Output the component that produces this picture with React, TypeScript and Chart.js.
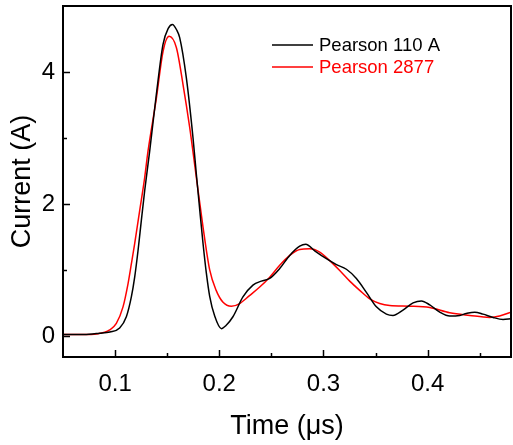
import React, { useEffect, useRef } from "react";
import { Chart, registerables } from "chart.js";

Chart.register(...registerables);

const blackTimes = [0.05, 0.07, 0.0852, 0.095, 0.1044, 0.1108, 0.1156, 0.1188, 0.122, 0.1252, 0.1284, 0.1332, 0.1396, 0.146, 0.151, 0.155, 0.159, 0.162, 0.1684, 0.1748, 0.178, 0.181, 0.1844, 0.1876, 0.1908, 0.1956, 0.202, 0.206, 0.2131, 0.2227, 0.2323, 0.2404, 0.2484, 0.258, 0.2676, 0.2772, 0.283, 0.2916, 0.3028, 0.3124, 0.322, 0.3316, 0.3412, 0.3508, 0.3604, 0.3667, 0.3763, 0.386, 0.394, 0.402, 0.4116, 0.4212, 0.4308, 0.4372, 0.4452, 0.4532, 0.4628, 0.4724, 0.48];
const blackValues = [0.02, 0.02, 0.04, 0.06, 0.12, 0.29, 0.59, 0.89, 1.29, 1.75, 2.2, 2.8, 3.66, 4.42, 4.66, 4.72, 4.64, 4.52, 3.91, 3.0, 2.45, 1.95, 1.4, 0.95, 0.6, 0.3, 0.11, 0.15, 0.29, 0.59, 0.77, 0.83, 0.87, 1.02, 1.22, 1.36, 1.39, 1.29, 1.17, 1.08, 1.01, 0.87, 0.66, 0.44, 0.33, 0.31, 0.39, 0.5, 0.53, 0.47, 0.36, 0.3, 0.31, 0.34, 0.36, 0.33, 0.28, 0.25, 0.26];

const redTimes = [0.05, 0.07, 0.082, 0.0948, 0.1012, 0.1076, 0.1124, 0.1156, 0.1188, 0.1236, 0.1284, 0.1316, 0.1396, 0.146, 0.1518, 0.1588, 0.1652, 0.1716, 0.178, 0.1844, 0.1908, 0.197, 0.2036, 0.2116, 0.2196, 0.229, 0.2388, 0.2484, 0.258, 0.2676, 0.2772, 0.2868, 0.2964, 0.306, 0.3156, 0.3252, 0.3348, 0.3444, 0.354, 0.3636, 0.3828, 0.402, 0.4212, 0.4404, 0.4596, 0.469, 0.48];
const redValues = [0.02, 0.02, 0.03, 0.09, 0.19, 0.44, 0.79, 1.09, 1.4, 1.9, 2.4, 2.8, 3.6, 4.31, 4.54, 4.37, 3.81, 3.16, 2.4, 1.65, 1.0, 0.69, 0.51, 0.45, 0.49, 0.61, 0.74, 0.89, 1.07, 1.22, 1.31, 1.32, 1.27, 1.14, 0.99, 0.83, 0.69, 0.56, 0.49, 0.46, 0.45, 0.43, 0.35, 0.31, 0.28, 0.3, 0.36];

const seriesNames = ["Pearson 110 A", "Pearson 2877"];
const seriesColors = ["#000000", "#ff0000"];

const xMajorTicks = [0.1, 0.2, 0.3, 0.4];
const xMinorTicks = [0.15, 0.25, 0.35, 0.45];
const yMajorTicks = [0, 2, 4];
const yMinorTicks = [1, 3];

const FONT = "'Liberation Sans', Arial, sans-serif";

const framePlugin = {
  id: "frameAndTicks",
  afterDatasetsDraw(chart: any) {
    const { ctx, chartArea, scales } = chart;
    const { left, right, top, bottom } = chartArea;
    ctx.save();
    ctx.strokeStyle = "#000";
    ctx.lineWidth = 1.5;
    const drawX = (vals: number[], len: number) => {
      vals.forEach((v) => {
        const px = Math.round(scales.x.getPixelForValue(v)) + 0.5;
        ctx.beginPath();
        ctx.moveTo(px, bottom);
        ctx.lineTo(px, bottom - len);
        ctx.stroke();
      });
    };
    const drawY = (vals: number[], len: number) => {
      vals.forEach((v) => {
        const py = Math.round(scales.y.getPixelForValue(v)) + 0.5;
        ctx.beginPath();
        ctx.moveTo(left, py);
        ctx.lineTo(left + len, py);
        ctx.stroke();
      });
    };
    drawX(xMajorTicks, 7);
    drawX(xMinorTicks, 4);
    drawY(yMajorTicks, 7);
    drawY(yMinorTicks, 4);
    ctx.lineWidth = 2;
    ctx.strokeRect(left, top, right - left, bottom - top);

    // legend
    ctx.font = `18.5px ${FONT}`;
    ctx.textBaseline = "middle";
    ctx.textAlign = "left";
    seriesNames.forEach((name, i) => {
      const y = 45 + i * 22;
      ctx.strokeStyle = seriesColors[i];
      ctx.lineWidth = 1.5;
      ctx.beginPath();
      ctx.moveTo(272, y);
      ctx.lineTo(313, y);
      ctx.stroke();
      ctx.fillStyle = seriesColors[i];
      ctx.fillText(name, 319, y + 1);
    });
    ctx.restore();
  },
};

export default function App() {
  const ref = useRef<HTMLCanvasElement | null>(null);
  useEffect(() => {
    if (!ref.current) return;
    const chart = new Chart(ref.current, {
      type: "line",
      data: {
        datasets: [
          {
            label: seriesNames[0],
            data: blackTimes.map((t, i) => ({ x: t, y: blackValues[i] })),
            borderColor: seriesColors[0],
            borderWidth: 1.5,
            pointRadius: 0,
            cubicInterpolationMode: "monotone",
            fill: false,
          },
          {
            label: seriesNames[1],
            data: redTimes.map((t, i) => ({ x: t, y: redValues[i] })),
            borderColor: seriesColors[1],
            borderWidth: 1.5,
            pointRadius: 0,
            cubicInterpolationMode: "monotone",
            fill: false,
          },
        ],
      },
      options: {
        animation: false,
        responsive: false,
        layout: { padding: { top: 6, right: 2, left: 0, bottom: 0 } },
        plugins: { legend: { display: false }, tooltip: { enabled: false } },
        scales: {
          x: {
            type: "linear",
            min: 0.05,
            max: 0.48,
            afterBuildTicks: (s: any) => {
              s.ticks = xMajorTicks.map((v) => ({ value: v }));
            },
            afterFit: (s: any) => {
              s.height = 88;
              s.paddingLeft = 0;
              s.paddingRight = 0;
            },
            grid: { display: false, drawTicks: false },
            border: { display: false },
            ticks: {
              color: "#000",
              font: { family: FONT, size: 24 },
              padding: 13,
              maxRotation: 0,
              callback: (v: any) => Number(v).toFixed(1),
            },
            title: {
              display: true,
              text: "Time (\u03bcs)",
              color: "#000",
              font: { family: FONT, size: 27 },
              padding: { top: 0, bottom: 2 },
            },
          },
          y: {
            type: "linear",
            min: -0.32,
            max: 5,
            afterBuildTicks: (s: any) => {
              s.ticks = yMajorTicks.map((v) => ({ value: v }));
            },
            afterFit: (s: any) => {
              s.width = 63;
              s.paddingTop = 0;
              s.paddingBottom = 0;
            },
            grid: { display: false, drawTicks: false },
            border: { display: false },
            ticks: {
              color: "#000",
              font: { family: FONT, size: 24 },
              padding: 8,
              callback: (v: any) => String(v),
            },
            title: {
              display: true,
              text: "Current (A)",
              color: "#000",
              font: { family: FONT, size: 27 },
              padding: { top: 6, bottom: 0 },
            },
          },
        },
      },
      plugins: [framePlugin],
    } as any);
    return () => chart.destroy();
  }, []);
  return (
    <div style={{ position: "fixed", left: 0, top: 0, width: 513, height: 445, background: "#fff" }}>
      <canvas ref={ref} width={513} height={445} />
    </div>
  );
}
